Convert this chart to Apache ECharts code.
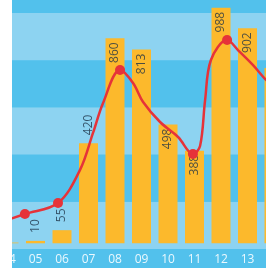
<!DOCTYPE html>
<html>
<head>
<meta charset="utf-8">
<script src="https://cdn.jsdelivr.net/npm/echarts@6/dist/echarts.min.js"></script>
<style>
html, body { margin: 0; padding: 0; background: #fff; }
#wrap { position: absolute; left: 12px; top: 0; width: 254px; height: 268px; overflow: hidden; }
#chart { position: absolute; left: -30px; top: -50px; width: 330px; height: 318px; }
</style>
</head>
<body>
<div id="wrap"><div id="chart"></div></div>
<script>
// categories and bar values
var categories = ['04', '05', '06', '07', '08', '09', '10', '11', '12', '13', '14'];
var barValues = [3, 10, 55, 420, 860, 813, 498, 388, 988, 902, 736];
// label sits above the bar (true) or inside near its top (false)
var labelAbove = [true, true, true, true, false, false, false, false, false, false, false];

// trend line, x is in category index units
var lineX = [-0.72, 0.60, 1.85, 2.68, 3.17, 3.55, 4.19, 4.68, 5.06, 5.70, 6.38, 6.94, 7.21, 7.40, 7.62, 8.23, 8.64, 9.21, 9.70, 10.4];
var lineY = [73, 123, 169, 308, 463, 589, 727, 673, 593, 509, 446, 375, 408, 601, 769, 853, 811, 748, 686, 623];
var lineDot = [false, true, true, false, false, false, true, false, false, false, false, true, false, false, false, true, false, false, false, false];

var chart = echarts.init(document.getElementById('chart'));

var barData = barValues.map(function (v, i) {
  var above = labelAbove[i];
  return {
    value: v,
    label: above
      ? { position: 'top', align: 'left', distance: 8 }
      : { position: 'insideTop', align: 'right', distance: 4 }
  };
});

var lineData = lineX.map(function (x, i) {
  var item = { value: [x, lineY[i]] };
  if (!lineDot[i]) item.symbol = 'none';
  return item;
});

var option = {
  backgroundColor: '#52c1ec',
  animation: false,
  grid: { left: 13.75, right: 24.75, top: 15.7, bottom: 19 },
  xAxis: [{
    type: 'category',
    data: categories,
    axisLine: { show: false },
    axisTick: { show: false },
    axisLabel: { color: '#eaf8fe', fontSize: 12, fontFamily: 'Open Sans', margin: 5 }
  }, {
    type: 'value',
    min: -0.5,
    max: 10.5,
    show: false
  }],
  yAxis: [{
    type: 'value',
    min: -24,
    max: 1165,
    show: false
  }, {
    type: 'value',
    min: 0,
    max: 6,
    interval: 1,
    axisLine: { show: false },
    axisTick: { show: false },
    axisLabel: { show: false },
    splitLine: { show: false },
    splitArea: { show: true, areaStyle: { color: ['#8dd3f1', '#52c1ec'] } }
  }],
  series: [{
    type: 'bar',
    xAxisIndex: 0,
    yAxisIndex: 0,
    data: barData,
    barWidth: 19,
    itemStyle: { color: '#fcb92c' },
    label: {
      show: true,
      rotate: 90,
      verticalAlign: 'middle',
      fontSize: 12,
      fontFamily: 'Open Sans',
      color: 'rgba(30,50,70,0.8)'
    }
  }, {
    type: 'line',
    xAxisIndex: 1,
    yAxisIndex: 0,
    data: lineData,
    smooth: 0.35,
    symbol: 'circle',
    symbolSize: 10,
    showSymbol: true,
    lineStyle: { color: '#e63339', width: 2.5 },
    itemStyle: { color: '#e63339' },
    z: 5
  }]
};

chart.setOption(option);
</script>
</body>
</html>
